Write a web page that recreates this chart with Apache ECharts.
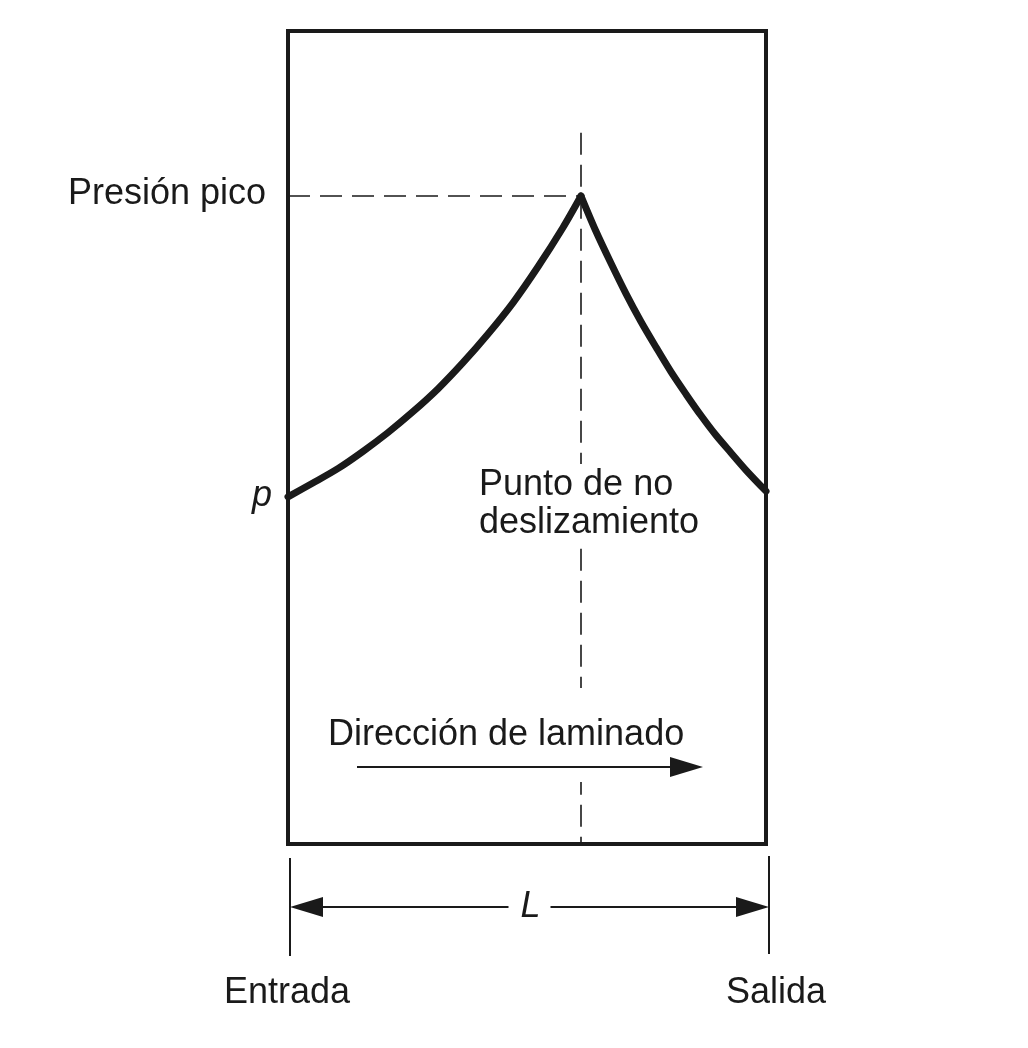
<!DOCTYPE html>
<html>
<head>
<meta charset="utf-8">
<script src="https://cdn.jsdelivr.net/npm/echarts@6/dist/echarts.min.js"></script>
<style>
  html, body { margin: 0; padding: 0; background: #ffffff; }
  #chart { width: 1028px; height: 1048px; }
</style>
</head>
<body>
<div id="chart"></div>
<script>
// Position along the roll gap, % of L (0 = entrada, 100 = salida)
const entryBranchX = [0, 5.2, 10.5, 15.7, 20.9, 26.2, 31.4, 36.6, 41.8, 47.1, 52.3, 57.5, 61.3];
// Pressure on the entry side (relative units, 0..100 of the box height)
const entryBranchP = [42.7, 44.4, 46.2, 48.3, 50.6, 53.2, 56.0, 59.2, 62.7, 66.6, 71.0, 75.8, 79.7];
const exitBranchX = [61.3, 64.4, 67.6, 70.7, 73.8, 77.0, 80.1, 83.3, 86.4, 89.5, 92.7, 95.8, 100];
const exitBranchP = [79.7, 75.4, 71.4, 67.7, 64.3, 61.1, 58.1, 55.3, 52.7, 50.3, 48.1, 46.0, 43.4];
// Top of the no-slip reference line (same relative units)
const noSlipLineTop = 87.5;

const labelPeak = 'Presión pico';
const labelP = 'p';
const labelNoSlip = 'Punto de no\ndeslizamiento';
const labelDirection = 'Dirección de laminado';
const labelL = 'L';
const labelEntry = 'Entrada';
const labelExit = 'Salida';

const INK = '#1a1a1a';
const FONT = '"Liberation Sans", Arial, Helvetica, sans-serif';

const peakX = entryBranchX[entryBranchX.length - 1];
const peakP = entryBranchP[entryBranchP.length - 1];

const chart = echarts.init(document.getElementById('chart'), null, { renderer: 'canvas' });

const dash = { type: [22, 10], width: 1.6, color: INK };
const curveStyle = { width: 7, color: INK, join: 'round', cap: 'round' };

chart.setOption({
  animation: false,
  backgroundColor: '#ffffff',
  grid: {
    left: 288, right: 262, top: 31, bottom: 204,
    show: true, borderColor: INK, borderWidth: 4, backgroundColor: 'transparent'
  },
  xAxis: {
    type: 'value', min: 0, max: 100,
    axisLine: { show: false }, axisTick: { show: false },
    axisLabel: { show: false }, splitLine: { show: false }
  },
  yAxis: {
    type: 'value', min: 0, max: 100,
    axisLine: { show: false }, axisTick: { show: false },
    axisLabel: { show: false }, splitLine: { show: false }
  },
  series: [
    {
      type: 'line',
      data: entryBranchX.map((x, i) => [x, entryBranchP[i]]),
      smooth: 0.3,
      showSymbol: false,
      lineStyle: curveStyle,
      z: 5,
      markLine: {
        silent: true,
        symbol: ['none', 'none'],
        label: { show: false },
        lineStyle: dash,
        data: [
          [{ coord: [0, peakP] }, { coord: [peakX, peakP] }],
          [{ coord: [peakX, noSlipLineTop] }, { coord: [peakX, 0] }]
        ]
      }
    },
    {
      type: 'line',
      data: exitBranchX.map((x, i) => [x, exitBranchP[i]]),
      smooth: 0.3,
      showSymbol: false,
      lineStyle: curveStyle,
      z: 5
    }
  ]
});

function px(x, y) { return chart.convertToPixel({ gridIndex: 0 }, [x, y]); }

const pLeftBottom = px(0, 0);
const pRightBottom = px(100, 0);
const pPeak = px(peakX, peakP);
const pEntryStart = px(entryBranchX[0], entryBranchP[0]);
const xL = pLeftBottom[0] + 2, xR = pRightBottom[0] + 3, yB = pLeftBottom[1];
const yDim = yB + 63;
const xMid = (xL + xR) / 2;

function txt(text, x, y, opts) {
  return {
    type: 'text', x: x, y: y, z: 100,
    style: Object.assign({
      text: text, fill: INK, fontSize: 36, fontFamily: FONT,
      align: 'left', verticalAlign: 'middle'
    }, opts || {})
  };
}

chart.setOption({
  graphic: [
    txt(labelPeak, pLeftBottom[0] - 22, pPeak[1] - 2, { align: 'right' }),
    txt(labelP, pLeftBottom[0] - 26, pEntryStart[1] - 1, { align: 'center', fontStyle: 'italic' }),
    txt(labelNoSlip, pPeak[0] - 104, 464, {
      verticalAlign: 'top', lineHeight: 38, backgroundColor: '#ffffff', padding: [2, 2, 6, 2]
    }),
    txt(labelDirection, 326, 735, {
      backgroundColor: '#ffffff', padding: [22, 2, 36, 2]
    }),
    // rolling direction arrow
    { type: 'line', z: 110, shape: { x1: 357, y1: 767, x2: 675, y2: 767 }, style: { stroke: INK, lineWidth: 2 } },
    { type: 'polygon', z: 110, shape: { points: [[670, 757], [703, 767], [670, 777]] }, style: { fill: INK } },
    // dimension line L
    { type: 'line', z: 100, shape: { x1: xL, y1: yB + 14, x2: xL, y2: yB + 112 }, style: { stroke: INK, lineWidth: 2 } },
    { type: 'line', z: 100, shape: { x1: xR, y1: yB + 12, x2: xR, y2: yB + 110 }, style: { stroke: INK, lineWidth: 2 } },
    { type: 'line', z: 100, shape: { x1: xL + 20, y1: yDim, x2: xMid - 21, y2: yDim }, style: { stroke: INK, lineWidth: 2 } },
    { type: 'line', z: 100, shape: { x1: xMid + 21, y1: yDim, x2: xR - 20, y2: yDim }, style: { stroke: INK, lineWidth: 2 } },
    { type: 'polygon', z: 100, shape: { points: [[xL, yDim], [xL + 33, yDim - 10], [xL + 33, yDim + 10]] }, style: { fill: INK } },
    { type: 'polygon', z: 100, shape: { points: [[xR, yDim], [xR - 33, yDim - 10], [xR - 33, yDim + 10]] }, style: { fill: INK } },
    txt(labelL, xMid + 1, yDim, { align: 'center', fontStyle: 'italic', fontSize: 36 }),
    txt(labelEntry, xL - 3, yB + 149, { align: 'center' }),
    txt(labelExit, xR + 7, yB + 149, { align: 'center' })
  ]
});
</script>
</body>
</html>
